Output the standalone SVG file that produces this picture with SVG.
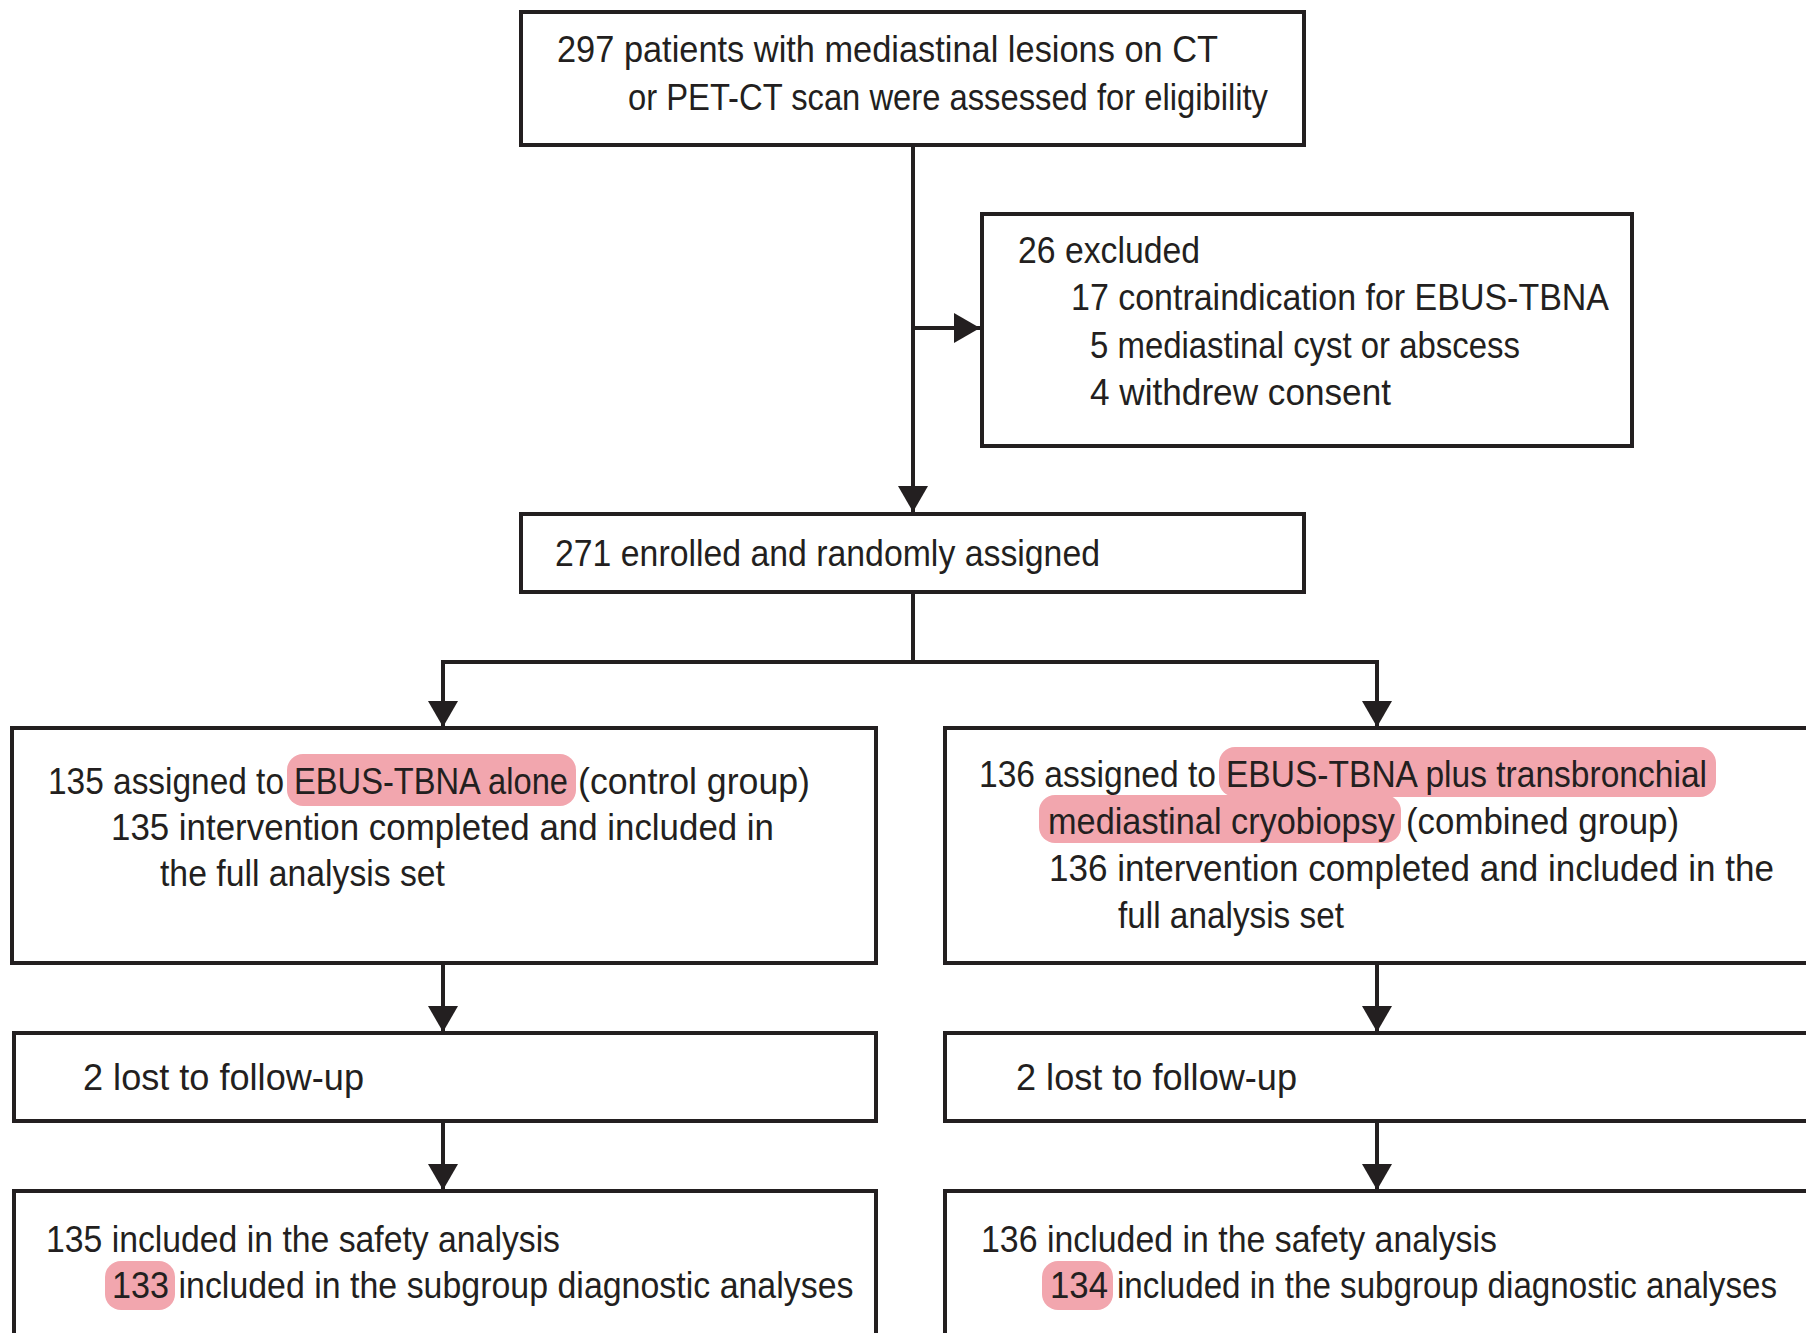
<svg xmlns="http://www.w3.org/2000/svg" width="1806" height="1333" viewBox="0 0 1806 1333">
<style>
.box{fill:#ffffff;stroke:#231f20;stroke-width:4}
.hl{fill:#f2a6ae}
.t{font-family:"Liberation Sans",Arial,sans-serif;font-size:36.5px;fill:#231f20}
.c{fill:none;stroke:#231f20;stroke-width:4}
</style>
<defs>
<marker id="arr" markerUnits="userSpaceOnUse" markerWidth="26" markerHeight="30" refX="26" refY="15" orient="auto">
<path d="M0,0 L26,15 L0,30 Z" fill="#231f20"/>
</marker>
</defs>
<rect width="1806" height="1333" fill="#ffffff"/>
<g id="connectors">
<path class="c" d="M913,145 V512" marker-end="url(#arr)"/>
<path class="c" d="M913,328 H980" marker-end="url(#arr)"/>
<path class="c" d="M913,592 V662"/>
<path class="c" d="M441,662 H1379"/>
<path class="c" d="M443,662 V727" marker-end="url(#arr)"/>
<path class="c" d="M1377,662 V727" marker-end="url(#arr)"/>
<path class="c" d="M443,963 V1032" marker-end="url(#arr)"/>
<path class="c" d="M1377,963 V1032" marker-end="url(#arr)"/>
<path class="c" d="M443,1121 V1190" marker-end="url(#arr)"/>
<path class="c" d="M1377,1121 V1190" marker-end="url(#arr)"/>
</g>
<g id="assessed">
<rect class="box" x="521" y="12" width="783" height="133"/>
<text class="t" x="557" y="62" textLength="661" lengthAdjust="spacingAndGlyphs">297 patients with mediastinal lesions on CT</text>
<text class="t" x="628" y="109.5" textLength="640" lengthAdjust="spacingAndGlyphs">or PET-CT scan were assessed for eligibility</text>
</g>
<g id="excluded">
<rect class="box" x="982" y="214" width="650" height="232"/>
<text class="t" x="1018" y="263" textLength="182" lengthAdjust="spacingAndGlyphs">26 excluded</text>
<text class="t" x="1071" y="310" textLength="538" lengthAdjust="spacingAndGlyphs">17 contraindication for EBUS-TBNA</text>
<text class="t" x="1090" y="358" textLength="430" lengthAdjust="spacingAndGlyphs">5 mediastinal cyst or abscess</text>
<text class="t" x="1090" y="405" textLength="301" lengthAdjust="spacingAndGlyphs">4 withdrew consent</text>
</g>
<g id="enrolled">
<rect class="box" x="521" y="514" width="783" height="78"/>
<text class="t" x="555" y="565.5" textLength="545" lengthAdjust="spacingAndGlyphs">271 enrolled and randomly assigned</text>
</g>
<g id="control">
<rect class="box" x="12" y="728" width="864" height="235"/>
<rect class="hl" x="287" y="754" width="289" height="52" rx="16"/>
<text class="t" x="48" y="793.6" textLength="236" lengthAdjust="spacingAndGlyphs">135 assigned to</text>
<text class="t" x="294" y="793.6" textLength="274" lengthAdjust="spacingAndGlyphs">EBUS-TBNA alone</text>
<text class="t" x="578" y="793.6" textLength="232" lengthAdjust="spacingAndGlyphs">(control group)</text>
<text class="t" x="111" y="839.7" textLength="663" lengthAdjust="spacingAndGlyphs">135 intervention completed and included in</text>
<text class="t" x="160" y="886" textLength="285" lengthAdjust="spacingAndGlyphs">the full analysis set</text>
</g>
<g id="combined">
<rect class="box" x="945" y="728" width="900" height="235"/>
<rect class="hl" x="1219" y="747" width="497" height="50" rx="16"/>
<rect class="hl" x="1039" y="795" width="362" height="48" rx="16"/>
<text class="t" x="979" y="786.7" textLength="237" lengthAdjust="spacingAndGlyphs">136 assigned to</text>
<text class="t" x="1226" y="786.7" textLength="481" lengthAdjust="spacingAndGlyphs">EBUS-TBNA plus transbronchial</text>
<text class="t" x="1048" y="834" textLength="347" lengthAdjust="spacingAndGlyphs">mediastinal cryobiopsy</text>
<text class="t" x="1406" y="834" textLength="273" lengthAdjust="spacingAndGlyphs">(combined group)</text>
<text class="t" x="1049" y="881" textLength="725" lengthAdjust="spacingAndGlyphs">136 intervention completed and included in the</text>
<text class="t" x="1118" y="928" textLength="226" lengthAdjust="spacingAndGlyphs">full analysis set</text>
</g>
<g id="lost-control">
<rect class="box" x="14" y="1033" width="862" height="88"/>
<text class="t" x="83" y="1089.6" textLength="281" lengthAdjust="spacingAndGlyphs">2 lost to follow-up</text>
</g>
<g id="lost-combined">
<rect class="box" x="945" y="1033" width="900" height="88"/>
<text class="t" x="1016" y="1089.6" textLength="281" lengthAdjust="spacingAndGlyphs">2 lost to follow-up</text>
</g>
<g id="analysis-control">
<rect class="box" x="14" y="1191" width="862" height="170"/>
<rect class="hl" x="105" y="1261" width="70" height="49" rx="16"/>
<text class="t" x="46" y="1252" textLength="514" lengthAdjust="spacingAndGlyphs">135 included in the safety analysis</text>
<text class="t" x="112" y="1298" textLength="57" lengthAdjust="spacingAndGlyphs">133</text>
<text class="t" x="178.5" y="1298" textLength="675" lengthAdjust="spacingAndGlyphs">included in the subgroup diagnostic analyses</text>
</g>
<g id="analysis-combined">
<rect class="box" x="945" y="1191" width="900" height="170"/>
<rect class="hl" x="1042" y="1261" width="71" height="49" rx="16"/>
<text class="t" x="981" y="1252" textLength="516" lengthAdjust="spacingAndGlyphs">136 included in the safety analysis</text>
<text class="t" x="1050" y="1298" textLength="58" lengthAdjust="spacingAndGlyphs">134</text>
<text class="t" x="1117" y="1298" textLength="660" lengthAdjust="spacingAndGlyphs">included in the subgroup diagnostic analyses</text>
</g>
</svg>
